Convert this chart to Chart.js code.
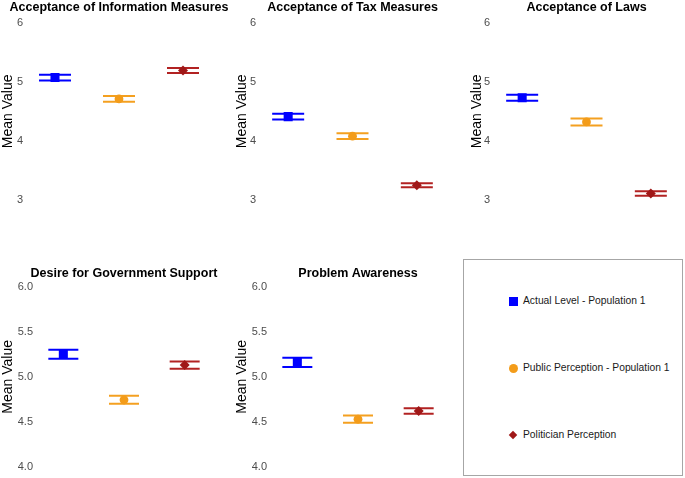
<!DOCTYPE html>
<html><head><meta charset="utf-8">
<script src="https://cdn.jsdelivr.net/npm/chart.js@4.4.0/dist/chart.umd.min.js"></script>
<style>
body{margin:0;background:#fff;width:685px;height:478px;position:relative;overflow:hidden;font-family:"Liberation Sans",Arial,sans-serif}
canvas{position:absolute}
#legend{position:absolute;left:463px;top:259px;width:218px;height:215px;border:1px solid #a6a6a6;background:#fff}
.mk{position:absolute}
.lt{position:absolute;left:59px;font-size:10.3px;color:#1a1a1a;line-height:12px;white-space:nowrap}
</style></head>
<body>
<canvas id="c0" width="238" height="230"></canvas>
<canvas id="c1" width="237" height="230"></canvas>
<canvas id="c2" width="235" height="230"></canvas>
<canvas id="c3" width="248" height="234"></canvas>
<canvas id="c4" width="248" height="234"></canvas>
<div id="legend"></div>
<script>
// ---- data ----
const panelTitles = ["Acceptance of Information Measures","Acceptance of Tax Measures","Acceptance of Laws","Desire for Government Support","Problem Awareness"];
const seriesNames = ["Actual Level - Population 1","Public Perception - Population 1","Politician Perception"];
const actualMean = [5.07, 4.41, 4.73, 5.25, 5.16];
const actualErr = [0.05, 0.05, 0.05, 0.05, 0.05];
const publicMean = [4.71, 4.08, 4.32, 4.745, 4.53];
const publicErr = [0.05, 0.05, 0.06, 0.045, 0.04];
const politicianMean = [5.19, 3.25, 3.11, 5.13, 4.62];
const politicianErr = [0.042, 0.035, 0.04, 0.04, 0.03];
const yTicksTop = [3, 4, 5, 6];
const yTickLabelsTop = ["3", "4", "5", "6"];
const yTicksBottom = [4.0, 4.5, 5.0, 5.5, 6.0];
const yTickLabelsBottom = ["4.0", "4.5", "5.0", "5.5", "6.0"];

// ---- styling ----
const colors = ["#0000ff", "#f4a020", "#b22222"];
const markerColors = ["#0000ff", "#f39c1a", "#a01818"];
const pointStyles = ["rect", "circle", "rectRot"];
const pointRadii = [6.4, 4.4, 5];
const FONT = "'Liberation Sans', Arial, sans-serif";

const layouts = [
  {left:0,   top:0,   axisW:23, padB:30, tT:0,    tB:7.6, capR:16, bottom:false},
  {left:234, top:0,   axisW:22, padB:30, tT:0,    tB:7.6, capR:16, bottom:false},
  {left:469, top:0,   axisW:21, padB:30, tT:0,    tB:7.6, capR:16, bottom:false},
  {left:0,   top:250, axisW:33, padB:6,  tT:15.8, tB:5.8, capR:15, bottom:true},
  {left:234, top:250, axisW:33, padB:6,  tT:15.8, tB:5.8, capR:15, bottom:true}
];

const means = [actualMean, publicMean, politicianMean];
const errs = [actualErr, publicErr, politicianErr];

layouts.forEach((L, p) => {
  const cv = document.getElementById('c' + p);
  cv.style.left = L.left + 'px';
  cv.style.top = L.top + 'px';
  const m = means.map(s => s[p]);
  const e = errs.map(s => s[p]);
  const hi = m.map((v, i) => v + e[i]);
  const lo = m.map((v, i) => v - e[i]);
  const ticks = L.bottom ? yTicksBottom : yTicksTop;
  const tickLabels = L.bottom ? yTickLabelsBottom : yTickLabelsTop;
  new Chart(cv, {
    type: 'bar',
    data: {
      labels: seriesNames,
      datasets: [
        {type:'bar', data: lo.map((v, i) => [v, hi[i]]), backgroundColor: colors, barThickness: 2, order: 2},
        {type:'line', data: hi, showLine:false, pointStyle:'line', pointRadius:L.capR, pointHoverRadius:L.capR,
         pointBorderWidth:2, pointBorderColor:colors, pointBackgroundColor:colors, order:1},
        {type:'line', data: lo, showLine:false, pointStyle:'line', pointRadius:L.capR, pointHoverRadius:L.capR,
         pointBorderWidth:2, pointBorderColor:colors, pointBackgroundColor:colors, order:1},
        {type:'line', data: m, showLine:false, pointStyle:pointStyles, pointRadius:pointRadii,
         pointBorderWidth:0, pointBackgroundColor:markerColors, pointBorderColor:markerColors, order:0}
      ]
    },
    options: {
      responsive:false, animation:false, devicePixelRatio:1,
      layout:{padding:{left:0, top:0, right:0, bottom:L.padB}},
      plugins:{
        legend:{display:false}, tooltip:{enabled:false},
        title:{display:true, text:panelTitles[p], fullSize:true, color:'#000',
               font:{family:FONT, size:12.5, weight:'bold'}, padding:{top:L.tT, bottom:L.tB}}
      },
      scales:{
        x:{display:false, offset:true, grid:{display:false}},
        y:{
          min: ticks[0], max: ticks[ticks.length - 1],
          grid:{display:false, drawTicks:false}, border:{display:false},
          afterBuildTicks: s => { s.ticks = ticks.map(v => ({value:v})); },
          afterFit: s => { s.width = L.axisW; },
          ticks:{padding:0, color:'#4d4d4d', font:{family:FONT, size:11},
                 callback:(v, i) => tickLabels[i]},
          title:{display:true, text:'Mean Value', color:'#000', font:{family:FONT, size:14}, padding:{top:0, bottom:0}}
        },
        yPad:{
          position:'right', display:true,
          grid:{display:false, drawTicks:false}, border:{display:false},
          ticks:{display:false},
          afterFit: s => { s.width = L.axisW; }
        }
      }
    }
  });
});

// ---- legend ----
const lg = document.getElementById('legend');
const itemY = [41, 108, 175];
seriesNames.forEach((name, i) => {
  const mk = document.createElement('div');
  mk.className = 'mk';
  if (i === 0) {
    Object.assign(mk.style, {left:'45px', top:(itemY[i]-4)+'px', width:'9px', height:'9px', background:markerColors[0]});
  } else if (i === 1) {
    Object.assign(mk.style, {left:'44.5px', top:(itemY[i]-4.5)+'px', width:'9px', height:'9px', borderRadius:'50%', background:markerColors[1]});
  } else {
    Object.assign(mk.style, {left:'46px', top:(itemY[i]-3)+'px', width:'6px', height:'6px', background:markerColors[2], transform:'rotate(45deg)'});
  }
  lg.appendChild(mk);
  const t = document.createElement('div');
  t.className = 'lt';
  t.style.top = (itemY[i] - 6) + 'px';
  t.textContent = name;
  lg.appendChild(t);
});
</script>
</body></html>
